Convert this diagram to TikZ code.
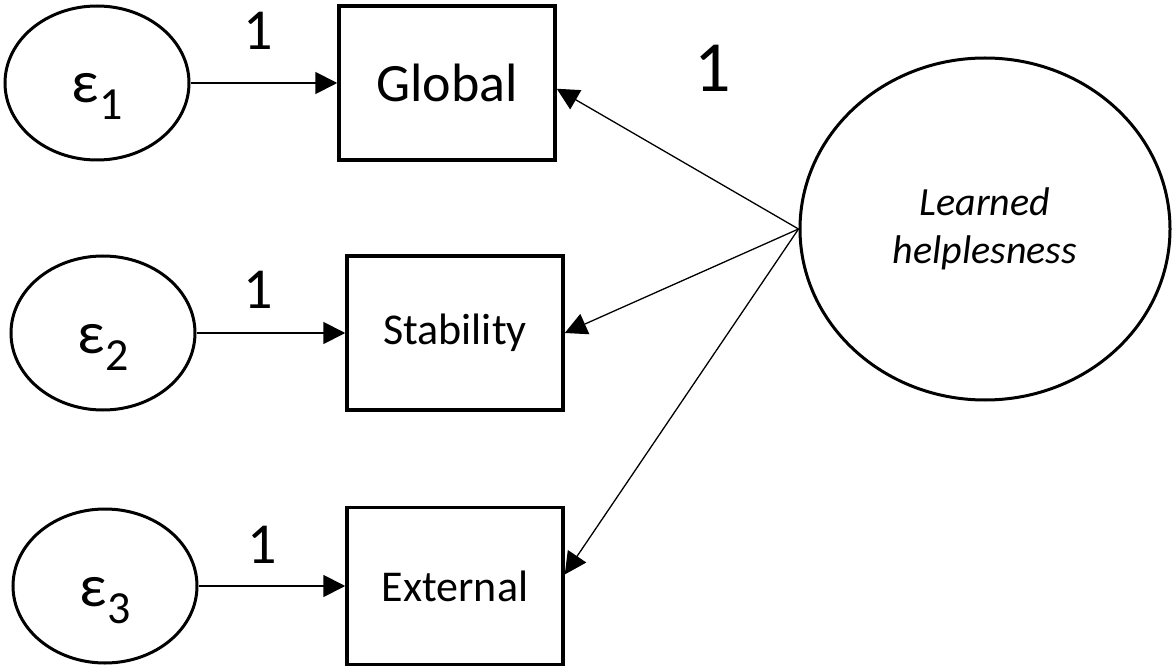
\documentclass[tikz,border=0pt]{standalone}
\usepackage{fontspec}
\setmainfont{Carlito}
\usetikzlibrary{shapes.geometric,arrows.meta}

\newcommand{\errname}[1]{\raisebox{-20pt}[0pt][0pt]{\fontsize{60}{60}\selectfont ε\raisebox{-17pt}{\fontsize{46}{46}\selectfont #1}}}

\begin{document}
\begin{tikzpicture}[x=1pt,y={(0pt,-1pt)},
	errvar/.style={ellipse, draw, line width=3pt, minimum width=184pt, minimum height=154pt, inner sep=0pt},
	obsvar/.style={rectangle, draw, line width=3.5pt, minimum width=216pt, minimum height=154pt, inner sep=0pt, font=\fontsize{44}{44}\selectfont},
	errpath/.style={line width=1.8pt, -{Triangle[length=22pt,width=22pt]}},
	loadpath/.style={line width=1.3pt, -{Triangle[length=22pt,width=22pt]}},
	weight/.style={font=\fontsize{58}{58}\selectfont, inner sep=0pt}]
	\useasboundingbox (0,0) rectangle (1172,668);
	% error terms
	\node[errvar] (e1) at (97,83) {\errname{1}};
	\node[errvar] (e2) at (103,333) {\errname{2}};
	\node[errvar] (e3) at (105,586) {\errname{3}};
	% indicators
	\node[obsvar, font=\fontsize{54}{54}\selectfont] (glob) at (447,83) {Global};
	\node[obsvar] (stab) at (455,333) {Stability};
	\node[obsvar, minimum height=157pt] (ext) at (455,586) {External};
	% latent factor
	\node[ellipse, draw, line width=3pt, minimum width=370pt, minimum height=342pt, inner sep=0pt,
		align=center, font=\itshape\fontsize{40}{48}\selectfont] (lh) at (985,229) {Learned\\helplesness};
	% fixed weights
	\node[weight] (w1) at (258,31) {1};
	\node[weight] (w2) at (258,290) {1};
	\node[weight] (w3) at (262,545) {1};
	\node[weight, font=\fontsize{72}{72}\selectfont] (w0) at (713,68) {1};
	% paths
	\draw[errpath] (e1) -- (glob);
	\draw[errpath] (e2) -- (stab);
	\draw[errpath] (e3) -- (ext);
	\draw[loadpath] (lh.west) -- (glob.-3);
	\draw[loadpath] (lh.west) -- (stab.east);
	\draw[loadpath] (lh.west) -- (ext.6);
\end{tikzpicture}
\end{document}
